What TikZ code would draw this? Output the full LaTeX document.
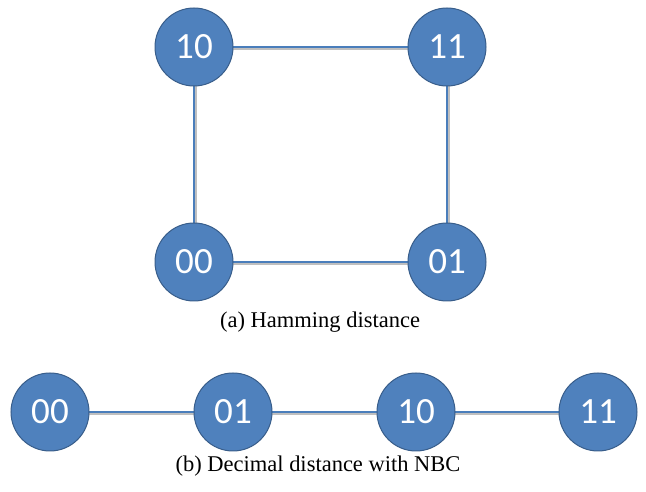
\documentclass[tikz,border=0pt]{standalone}
\usepackage{fontspec}
\setmainfont{Liberation Serif}
\newfontfamily\calibrifont{Carlito}
\definecolor{nodefill}{HTML}{4F81BD}
\definecolor{nodeedge}{HTML}{385D8A}
\definecolor{edgecol}{HTML}{4A7EBB}
\definecolor{shadowcol}{HTML}{BFBFBF}
\begin{document}
\begin{tikzpicture}[x=1pt,y=1pt,
  bit/.style={circle,draw=nodeedge,line width=1pt,fill=nodefill,minimum size=78pt,inner sep=0pt,text=white,font=\calibrifont\fontsize{37}{37}\selectfont},
  link/.style={draw=edgecol,line width=2.8pt},
  linkshadow/.style={draw=shadowcol,line width=2.8pt},
  captiontext/.style={font=\fontsize{22.5}{26}\selectfont}]
\useasboundingbox (0,0) rectangle (646,492);
% top square
\coordinate (s10) at (194,445);
\coordinate (s11) at (447,445);
\coordinate (s00) at (194,230);
\coordinate (s01) at (447,230);
\begin{scope}[transform canvas={yshift=-1.8pt}]
\draw[linkshadow] (s10) -- (s11);
\draw[linkshadow] (s00) -- (s01);
\end{scope}
\begin{scope}[transform canvas={xshift=1.8pt}]
\draw[linkshadow] (s10) -- (s00);
\draw[linkshadow] (s11) -- (s01);
\end{scope}
\draw[link] (s10) -- (s11);
\draw[link] (s00) -- (s01);
\draw[link] (s10) -- (s00);
\draw[link] (s11) -- (s01);
\node[bit] (a10) at (s10) {10};
\node[bit] (a11) at (s11) {11};
\node[bit] (a00) at (s00) {00};
\node[bit] (a01) at (s01) {01};
\node[captiontext] (capa) at (320,170) {(a) Hamming distance};
% bottom row
\coordinate (l00) at (50,80);
\coordinate (l01) at (233,80);
\coordinate (l10) at (416,80);
\coordinate (l11) at (598,80);
\begin{scope}[transform canvas={yshift=-1.8pt}]
\draw[linkshadow] (l00) -- (l01) -- (l10) -- (l11);
\end{scope}
\draw[link] (l00) -- (l01);
\draw[link] (l01) -- (l10);
\draw[link] (l10) -- (l11);
\node[bit] (b00) at (l00) {00};
\node[bit] (b01) at (l01) {01};
\node[bit] (b10) at (l10) {10};
\node[bit] (b11) at (l11) {11};
\node[captiontext] (capb) at (318,26) {(b) Decimal distance with NBC};
\end{tikzpicture}
\end{document}
